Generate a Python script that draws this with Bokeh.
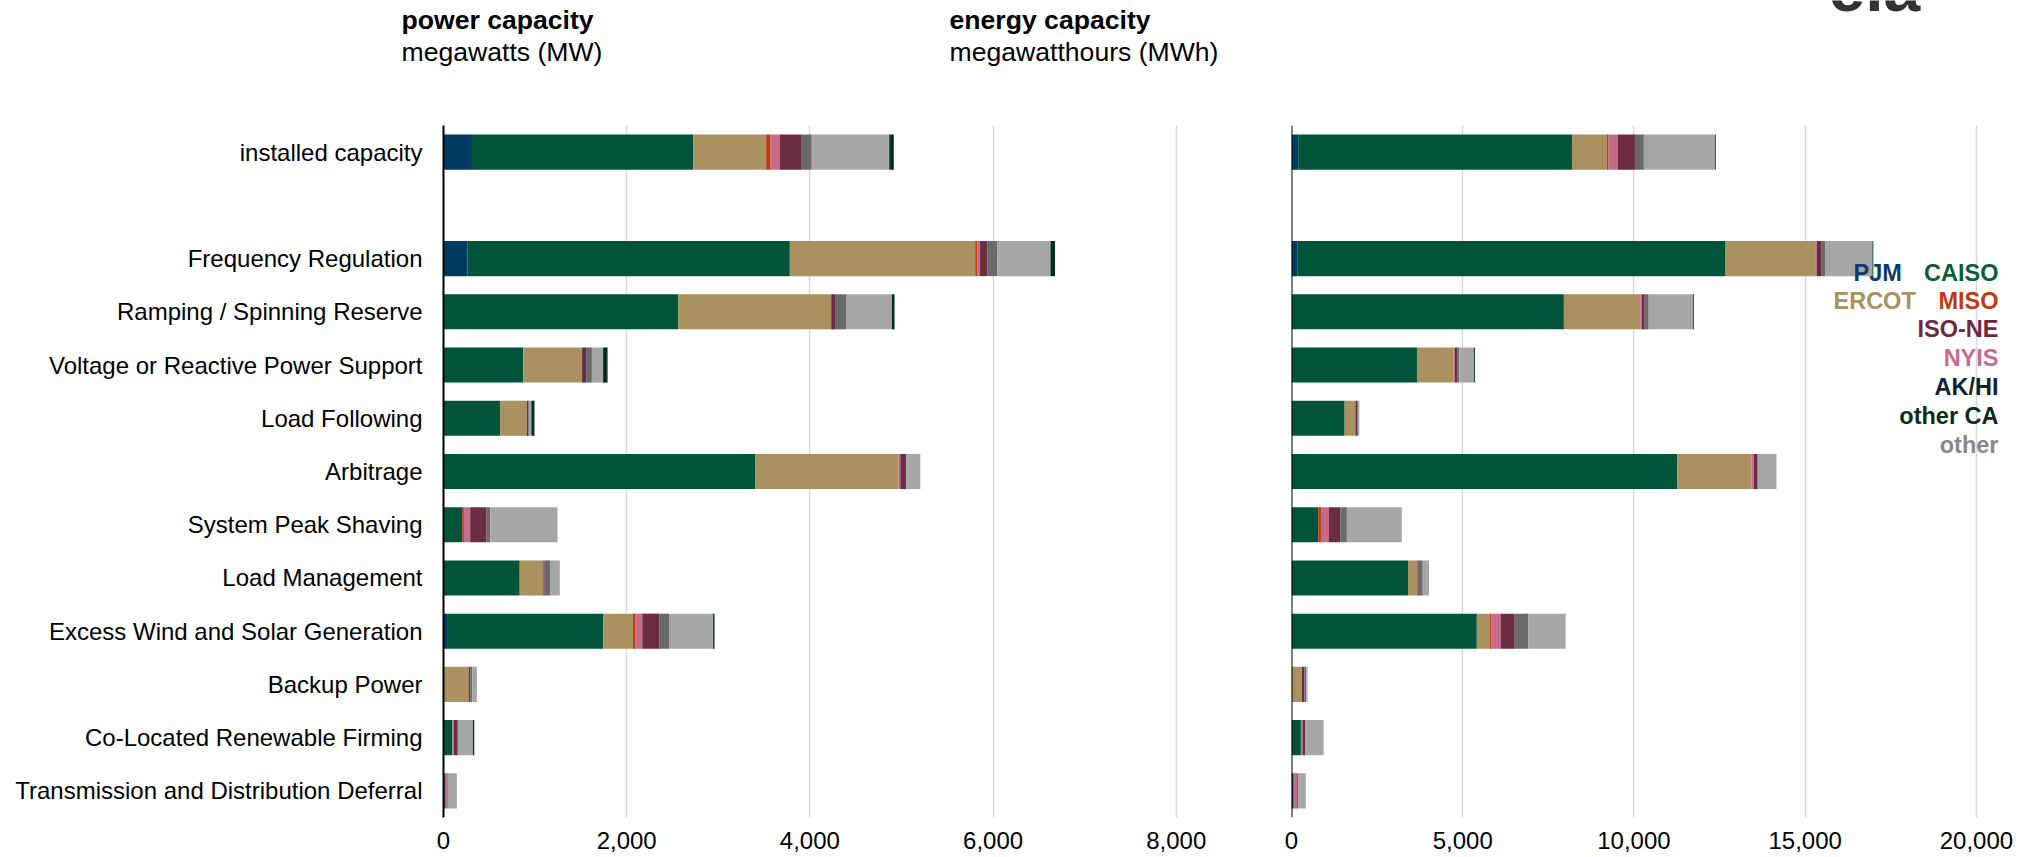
from bokeh.plotting import figure
from bokeh.models import FactorRange, Range1d, Label, NumeralTickFormatter, FixedTicker, Span, ColumnDataSource
from bokeh.layouts import row, column
from bokeh.embed import file_html
from bokeh.resources import INLINE

# ---------------- data ----------------
categories = ["installed capacity", " ", "Frequency Regulation", "Ramping / Spinning Reserve",
              "Voltage or Reactive Power Support", "Load Following", "Arbitrage",
              "System Peak Shaving", "Load Management", "Excess Wind and Solar Generation",
              "Backup Power", "Co-Located Renewable Firming",
              "Transmission and Distribution Deferral"]

series_keys = ["PJM", "CAISO", "ERCOT", "MISO", "NYIS", "ISO_NE", "AK_HI", "other", "other_CA"]

# power capacity, MW
mw_PJM      = [311, 0, 263, 0, 0, 0, 0, 0, 0, 39, 0, 0, 15]
mw_CAISO    = [2414, 0, 3518, 2564, 871, 618, 3401, 204, 832, 1703, 0, 97, 0]
mw_ERCOT    = [798, 0, 2024, 1669, 642, 292, 1567, 0, 258, 326, 277, 0, 0]
mw_MISO     = [49, 0, 24, 0, 0, 0, 0, 19, 0, 24, 0, 0, 10]
mw_NYIS     = [102, 0, 29, 0, 0, 0, 19, 68, 0, 78, 0, 15, 24]
mw_ISO_NE   = [229, 0, 78, 49, 44, 15, 63, 180, 15, 190, 15, 44, 0]
mw_AK_HI    = [117, 0, 112, 112, 63, 15, 0, 39, 58, 102, 24, 0, 0]
mw_other    = [847, 0, 579, 501, 122, 19, 156, 735, 107, 482, 49, 165, 97]
mw_other_CA = [49, 0, 49, 29, 49, 34, 0, 0, 0, 15, 0, 15, 0]

# energy capacity, MWh
mwh_PJM      = [196, 0, 170, 0, 0, 0, 0, 0, 0, 0, 0, 0, 65]
mwh_CAISO    = [7994, 0, 12505, 7954, 3664, 1552, 11267, 782, 3403, 5412, 0, 274, 0]
mwh_ERCOT    = [1017, 0, 2634, 2230, 1069, 313, 2165, 0, 274, 378, 300, 0, 0]
mwh_MISO     = [52, 0, 13, 0, 0, 0, 0, 78, 0, 52, 0, 0, 0]
mwh_NYIS     = [274, 0, 13, 39, 39, 0, 65, 235, 0, 261, 0, 52, 104]
mwh_ISO_NE   = [496, 0, 130, 91, 65, 52, 117, 326, 39, 417, 78, 78, 26]
mwh_AK_HI    = [261, 0, 130, 117, 65, 39, 0, 196, 117, 391, 52, 0, 0]
mwh_other    = [2073, 0, 1369, 1291, 430, 26, 548, 1604, 183, 1095, 39, 535, 222]
mwh_other_CA = [26, 0, 26, 26, 26, 0, 0, 0, 0, 0, 0, 0, 0]

power_ticks = [0, 2000, 4000, 6000, 8000]
energy_ticks = [0, 5000, 10000, 15000, 20000]

bar_colors = ["#013A63", "#00543A", "#A99260", "#BD3A12", "#C46C8A", "#6C2C41",
              "#6A6A6A", "#A6A6A6", "#00301F"]

legend_rows = [("CAISO", "#0E5B3C"), ("MISO", "#BF3A12"), ("ISO-NE", "#6B2A40"),
               ("NYIS", "#C86C8C"), ("AK/HI", "#0C2234"), ("other CA", "#0C2A1C"),
               ("other", "#888888")]
legend_left = [("PJM", "#0B3C68"), ("ERCOT", "#A99160")]

FONT = "Liberation Sans"

power = dict(cat=categories, PJM=mw_PJM, CAISO=mw_CAISO, ERCOT=mw_ERCOT, MISO=mw_MISO,
             NYIS=mw_NYIS, ISO_NE=mw_ISO_NE, AK_HI=mw_AK_HI, other=mw_other, other_CA=mw_other_CA)
energy = dict(cat=categories, PJM=mwh_PJM, CAISO=mwh_CAISO, ERCOT=mwh_ERCOT, MISO=mwh_MISO,
              NYIS=mwh_NYIS, ISO_NE=mwh_ISO_NE, AK_HI=mwh_AK_HI, other=mwh_other,
              other_CA=mwh_other_CA)

HEADER_H = 108
FRAME_H = 692
TOP = 17
BOTTOM = 36
LEFT_W = 443 + 824 + 12
RIGHT_W = 12 + 720 + 8


def style_common(p, ticks):
    p.outline_line_color = None
    p.background_fill_color = "white"
    p.border_fill_color = "white"
    p.ygrid.grid_line_color = None
    p.xgrid.grid_line_color = "#D9D9D9"
    p.xgrid.grid_line_width = 1.5
    p.xaxis.ticker = FixedTicker(ticks=ticks)
    p.xaxis.formatter = NumeralTickFormatter(format="0,0")
    p.xaxis.axis_line_color = None
    p.xaxis.major_tick_line_color = None
    p.xaxis.minor_tick_line_color = None
    p.xaxis.major_label_text_font = FONT
    p.xaxis.major_label_text_font_size = "24px"
    p.xaxis.major_label_text_color = "#000000"
    p.xaxis.major_label_standoff = 8


# ---------------- header (titles + logo) ----------------
header = figure(width=LEFT_W + RIGHT_W, height=HEADER_H,
                x_range=Range1d(0, 1), y_range=Range1d(0, 1),
                min_border=0, x_axis_location=None, y_axis_location=None,
                output_backend="svg", toolbar_location=None)
header.outline_line_color = None
header.grid.grid_line_color = None
for txt, x, y, style in [("power capacity", 401, 89, "bold"),
                         ("megawatts (MW)", 401, 57, "normal"),
                         ("energy capacity", 949, 89, "bold"),
                         ("megawatthours (MWh)", 949, 57, "normal")]:
    header.add_layout(Label(x=x, y=y, x_units="screen", y_units="screen", text=txt,
                            text_font=FONT, text_font_size="26.6px", text_font_style=style,
                            text_baseline="middle", text_color="#000000"))
header.add_layout(Label(x=1828, y=121, x_units="screen", y_units="screen", text="eia",
                        text_font=FONT, text_font_size="66px", text_font_style="bold",
                        text_baseline="alphabetic", text_color="#333333"))

# ---------------- left: power ----------------
p1 = figure(y_range=FactorRange(*reversed(categories), range_padding=0),
            x_range=Range1d(0, 8996),
            frame_width=824, frame_height=FRAME_H,
            min_border_left=443, min_border_right=12,
            min_border_top=TOP, min_border_bottom=BOTTOM,
            output_backend="svg", toolbar_location=None)
p1.hbar_stack(series_keys, y="cat", height=0.66, color=bar_colors,
              source=ColumnDataSource(power), line_color=None)
style_common(p1, power_ticks)
p1.yaxis.axis_line_color = "#000000"
p1.yaxis.axis_line_width = 2
p1.yaxis.major_tick_line_color = None
p1.yaxis.minor_tick_line_color = None
p1.yaxis.major_label_text_font = FONT
p1.yaxis.major_label_text_font_size = "24px"
p1.yaxis.major_label_text_color = "#000000"
p1.yaxis.major_label_standoff = 15

# ---------------- right: energy ----------------
p2 = figure(y_range=FactorRange(*reversed(categories), range_padding=0),
            x_range=Range1d(0, 21025),
            frame_width=720, frame_height=FRAME_H,
            min_border_left=12, min_border_right=8,
            min_border_top=TOP, min_border_bottom=BOTTOM,
            y_axis_location=None,
            output_backend="svg", toolbar_location=None)
p2.hbar_stack(series_keys, y="cat", height=0.66, color=bar_colors,
              source=ColumnDataSource(energy), line_color=None)
style_common(p2, energy_ticks)
p2.add_layout(Span(location=0, dimension="height", line_color="#000000", line_width=2))

# legend text (right aligned column)
ys = [545, 517, 489, 460, 431, 402, 373]
for (txt, col), y in zip(legend_rows, ys):
    p2.add_layout(Label(x=707, y=y, x_units="screen", y_units="screen", text=txt,
                        text_font=FONT, text_font_size="23.5px", text_font_style="bold",
                        text_align="right", text_baseline="middle", text_color=col))
for (txt, col), x, y in zip(legend_left, [562, 542], ys[:2]):
    p2.add_layout(Label(x=x, y=y, x_units="screen", y_units="screen", text=txt,
                        text_font=FONT, text_font_size="23.5px", text_font_style="bold",
                        text_align="left", text_baseline="middle", text_color=col))

layout = column(header, row(p1, p2))
open("out.html", "w").write(file_html(layout, INLINE))
